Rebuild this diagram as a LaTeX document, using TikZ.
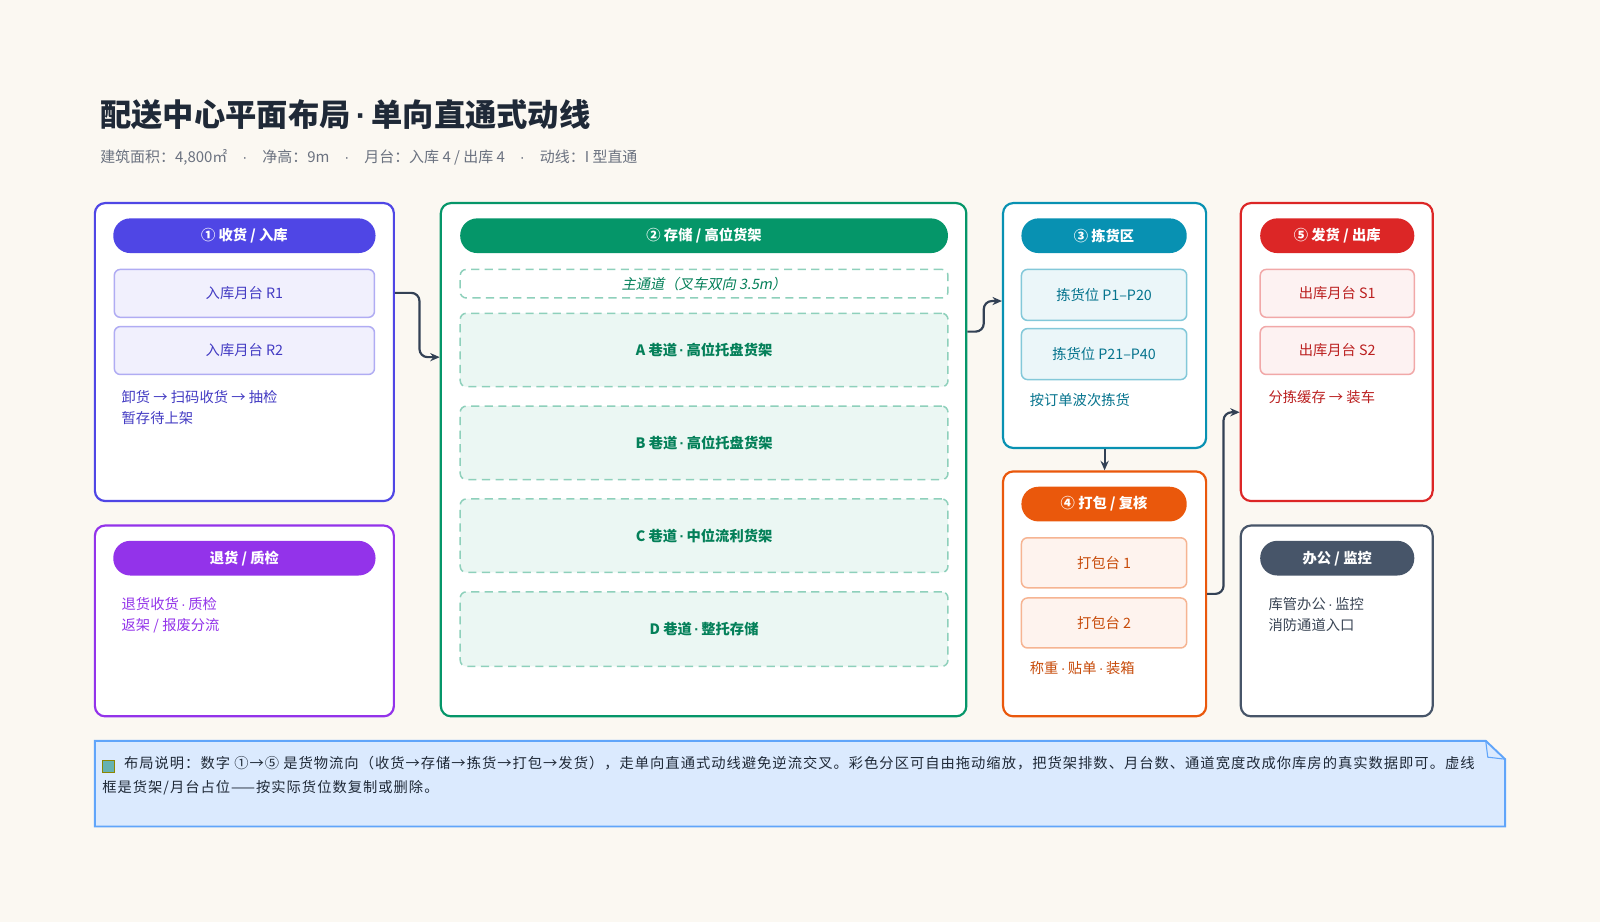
\documentclass[tikz,border=0pt]{standalone}
\usepackage{fontspec}
\setmainfont{Noto Sans CJK SC}
\newfontfamily\latinf{Liberation Sans}
\newfontfamily\slantf{Noto Sans CJK SC}[FakeSlant=0.2]
\newfontfamily\widef{Noto Sans CJK SC}[LetterSpace=7]
\newcommand\mdot{{\latinf ·}}
\usetikzlibrary{arrows.meta,fit}
\definecolor{bgc}{HTML}{FBF8F2}
\definecolor{ink}{HTML}{1F2937}
\definecolor{subc}{HTML}{6B7280}
\definecolor{flowc}{HTML}{334155}
\definecolor{indc}{HTML}{4F46E5}
\definecolor{purc}{HTML}{9333EA}
\definecolor{grnc}{HTML}{059669}
\definecolor{cyac}{HTML}{0891B2}
\definecolor{orac}{HTML}{EA580C}
\definecolor{redc}{HTML}{DC2626}
\definecolor{slac}{HTML}{475569}
\definecolor{notef}{HTML}{DBEAFE}
\definecolor{noted}{HTML}{60A5FA}
\tikzset{
  zone/.style={draw=#1, fill=white, line width=1.6pt, rounded corners=7.5pt, inner sep=0pt},
  pill/.style={fill=#1, rounded corners=12.5pt, inner sep=0pt},
  slot/.style 2 args={draw=#1, fill=#2, line width=1.1pt, rounded corners=4.5pt, inner sep=0pt},
  rack/.style={draw=grnc!45, fill=grnc!8, line width=1.1pt, dash pattern=on 6pt off 4pt,
    rounded corners=4.5pt, inner sep=0pt},
  tag/.style={inner sep=0pt, font=\fontsize{10.5}{12}\selectfont},
  head/.style={inner sep=0pt, text=white, font=\fontsize{10.5}{12}\selectfont\bfseries},
  memo/.style={anchor=north west, align=left, inner sep=0pt, font=\fontsize{10.5}{15.5}\selectfont},
  flow/.style={draw=flowc, line width=1.6pt, rounded corners=6pt, -{Stealth[length=7pt,width=6pt]}}
}
\begin{document}
\begin{tikzpicture}[x=0.75pt,y=-0.75pt]
\useasboundingbox[fill=bgc] (0,0) rectangle (1568,904);
% heading
\node[anchor=west, inner sep=0pt, text=ink, font=\fontsize{23}{26}\selectfont\bfseries] (title) at (98,112) {配送中心平面布局\,\mdot\,单向直通式动线};
\node[anchor=west, inner sep=0pt, text=subc, font=\fontsize{11}{13}\selectfont] (sub) at (98,154) {建筑面积：4,800㎡\quad\mdot\quad 净高：9m\quad\mdot\quad 月台：入库 4 / 出库 4\quad\mdot\quad 动线：I 型直通};
% 1 receiving
\node[zone=indc, fit={(93,199)(386,491)}] (recv) {};
\node[pill=indc, fit={(111,214)(368,248)}] (recvh) {};
\node[head] at (recvh) {① 收货 / 入库};
\node[slot={indc!45}{indc!8}, fit={(112,264)(367,311)}] (r1) {};
\node[tag, text=indc!85!black] at (r1) {入库月台 R1};
\node[slot={indc!45}{indc!8}, fit={(112,320)(367,367)}] (r2) {};
\node[tag, text=indc!85!black] at (r2) {入库月台 R2};
\node[memo, text=indc!85!black] (recvm) at (119,382) {卸货 → 扫码收货 → 抽检\\暂存待上架};
% returns
\node[zone=purc, fit={(93,515)(386,702)}] (ret) {};
\node[pill=purc, fit={(111,530)(368,564)}] (reth) {};
\node[head] at (reth) {退货 / 质检};
\node[memo, text=purc] (retm) at (119,585) {退货收货\,\mdot\,质检\\返架 / 报废分流};
% 2 storage
\node[zone=grnc, fit={(432,199)(947,702)}] (store) {};
\node[pill=grnc, fit={(451,214)(929,248)}] (storeh) {};
\node[head] at (storeh) {② 存储 / 高位货架};
\node[rack, fill=white, fit={(451,264)(929,292)}] (aisle) {};
\node[tag, text=grnc!85!black, font=\fontsize{10.5}{12}\slantf] at (aisle) {主通道（叉车双向 3.5m）};
\node[rack, fit={(451,307)(929,379)}] (ra) {};
\node[tag, text=grnc!85!black, font=\fontsize{10.5}{12}\selectfont\bfseries] at (ra) {A 巷道\,\mdot\,高位托盘货架};
\node[rack, fit={(451,398)(929,470)}] (rb) {};
\node[tag, text=grnc!85!black, font=\fontsize{10.5}{12}\selectfont\bfseries] at (rb) {B 巷道\,\mdot\,高位托盘货架};
\node[rack, fit={(451,489)(929,561)}] (rc) {};
\node[tag, text=grnc!85!black, font=\fontsize{10.5}{12}\selectfont\bfseries] at (rc) {C 巷道\,\mdot\,中位流利货架};
\node[rack, fit={(451,580)(929,653)}] (rd) {};
\node[tag, text=grnc!85!black, font=\fontsize{10.5}{12}\selectfont\bfseries] at (rd) {D 巷道\,\mdot\,整托存储};
% 3 picking
\node[zone=cyac, fit={(983,199)(1182,439)}] (pick) {};
\node[pill=cyac, fit={(1001,214)(1163,248)}] (pickh) {};
\node[head] at (pickh) {③ 拣货区};
\node[slot={cyac!50}{cyac!8}, fit={(1001,264)(1163,314)}] (p1) {};
\node[tag, text=cyac!80!black] at (p1) {拣货位 P1–P20};
\node[slot={cyac!50}{cyac!8}, fit={(1001,322)(1163,372)}] (p2) {};
\node[tag, text=cyac!80!black] at (p2) {拣货位 P21–P40};
\node[memo, text=cyac!80!black] (pickm) at (1009,385) {按订单波次拣货};
% 4 packing
\node[zone=orac, fit={(983,462)(1182,702)}] (pack) {};
\node[pill=orac, fit={(1001,477)(1163,511)}] (packh) {};
\node[head] at (packh) {④ 打包 / 复核};
\node[slot={orac!45}{orac!7}, fit={(1001,527)(1163,576)}] (k1) {};
\node[tag, text=orac!85!black] at (k1) {打包台 1};
\node[slot={orac!45}{orac!7}, fit={(1001,586)(1163,635)}] (k2) {};
\node[tag, text=orac!85!black] at (k2) {打包台 2};
\node[memo, text=orac!85!black] (packm) at (1009,648) {称重\,\mdot\,贴单\,\mdot\,装箱};
% 5 shipping
\node[zone=redc, fit={(1216,199)(1404,491)}] (ship) {};
\node[pill=redc, fit={(1235,214)(1386,248)}] (shiph) {};
\node[head] at (shiph) {⑤ 发货 / 出库};
\node[slot={redc!40}{redc!6}, fit={(1235,264)(1386,311)}] (s1) {};
\node[tag, text=redc!85!black] at (s1) {出库月台 S1};
\node[slot={redc!40}{redc!6}, fit={(1235,320)(1386,367)}] (s2) {};
\node[tag, text=redc!85!black] at (s2) {出库月台 S2};
\node[memo, text=redc!85!black] (shipm) at (1243,382) {分拣缓存 → 装车};
% office
\node[zone=slac, fit={(1216,515)(1404,702)}] (office) {};
\node[pill=slac, fit={(1235,530)(1386,564)}] (officeh) {};
\node[head] at (officeh) {办公 / 监控};
\node[memo, text=slac!80!black] (officem) at (1243,585) {库管办公\,\mdot\,监控\\消防通道入口};
% flow
\coordinate (y1) at (0,287);
\coordinate (y2) at (0,350);
\coordinate (y3) at (0,325);
\coordinate (y4) at (0,295);
\coordinate (y5) at (0,582);
\coordinate (y6) at (0,404);
\draw[flow] (recv.east |- y1) -- ++(24,0) |- (store.west |- y2);
\draw[flow] (store.east |- y3) -- ++(16,0) |- (pick.west |- y4);
\draw[flow] (pick.south) -- (pack.north);
\draw[flow] (pack.east |- y5) -- ++(16,0) |- (ship.west |- y6);
% note
\draw[draw=noted, fill=notef, line width=1.4pt] (93,726) -- (1456,726) -- (1475,744) -- (1475,810) -- (93,810) -- cycle;
\draw[draw=noted, line width=0.8pt] (1456,726) -- (1458,742) -- (1475,744);
\node[fill=teal!60, draw=olive, line width=0.5pt, minimum size=9pt, inner sep=0pt] (icon) at (106,751) {};
\node[anchor=north west, inner sep=0pt, align=left, text=ink,
  font=\fontsize{10.5}{17.5}\widef] (notet) at (100,741)
  {\hspace*{16pt}布局说明：数字 ①→⑤ 是货物流向（收货→存储→拣货→打包→发货），走单向直通式动线避免逆流交叉。彩色分区可自由拖动缩放，把货架排数、月台数、通道宽度改成你库房的真实数据即可。虚线\\框是货架/月台占位——按实际货位数复制或删除。};
\end{tikzpicture}
\end{document}
